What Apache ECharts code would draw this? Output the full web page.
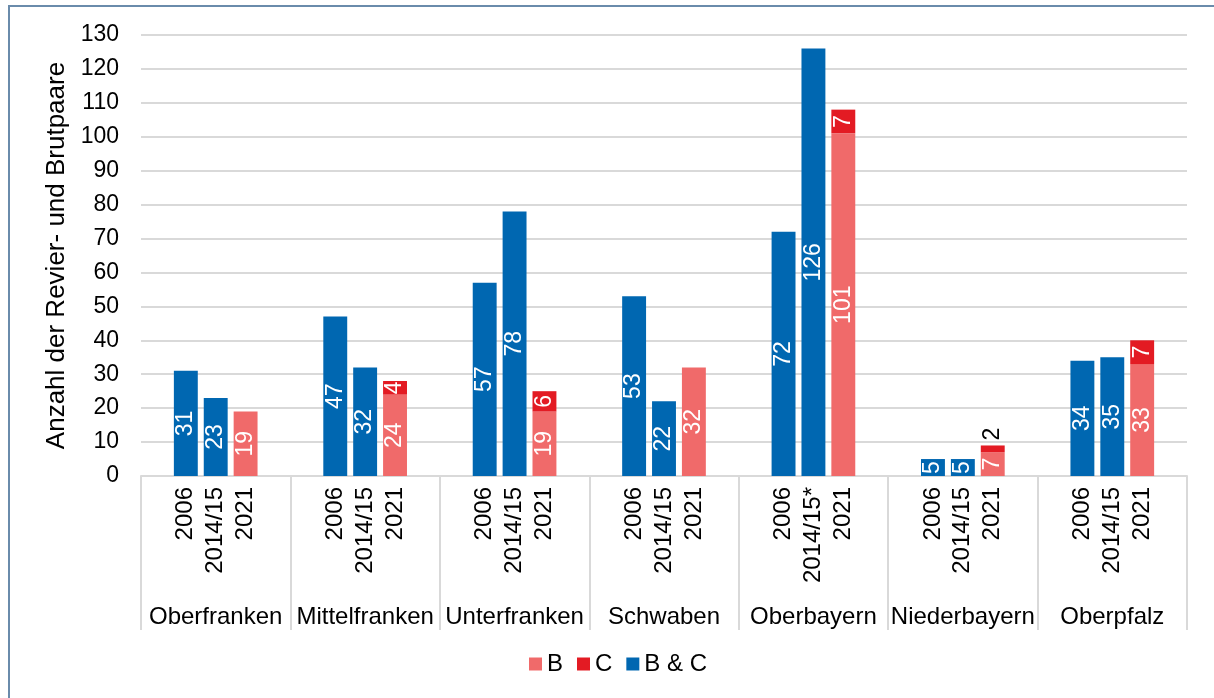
<!DOCTYPE html>
<html>
<head>
<meta charset="utf-8">
<script src="https://cdn.jsdelivr.net/npm/echarts@6/dist/echarts.min.js"></script>
<style>
html,body{margin:0;padding:0;background:#fff;}
#frame{position:absolute;left:8px;top:5px;width:1220px;height:710px;border-left:2px solid #6a8bab;border-top:2px solid #6a8bab;box-sizing:border-box;}
#chart{position:absolute;left:0;top:0;width:1214px;height:698px;}
</style>
</head>
<body>
<div id="frame"></div>
<div id="chart"></div>
<script>
// ---- data ----
const regions = ['Oberfranken','Mittelfranken','Unterfranken','Schwaben','Oberbayern','Niederbayern','Oberpfalz'];
const periods = ['2006','2014/15','2021'];
const periodsOberbayern = ['2006','2014/15*','2021'];
const bc2006 = [31, 47, 57, 53, 72, 5, 34];
const bc2014 = [23, 32, 78, 22, 126, 5, 35];
const b2021 = [19, 24, 19, 32, 101, 7, 33];
const c2021 = [0, 4, 6, 0, 7, 2, 7];

// ---- build categories (5 slots per region: pad, 2006, 2014/15, 2021, pad) ----
const cats = [];
const blueData = [], bData = [], cData = [];
regions.forEach((r, i) => {
  const per = r === 'Oberbayern' ? periodsOberbayern : periods;
  cats.push(r + '|pad0|');
  per.forEach((p, k) => cats.push(r + '|' + k + '|' + p));
  cats.push(r + '|pad1|');
  blueData.push(null, bc2006[i], bc2014[i], null, null);
  bData.push(null, null, null, b2021[i], null);
  const c = c2021[i];
  let cItem = null;
  if (c > 0) {
    if (c < 3) {
      cItem = {value: c, label: {position: 'top', color: '#000', align: 'left', verticalAlign: 'middle', distance: 5}};
    } else {
      cItem = c;
    }
  }
  cData.push(null, null, null, cItem, null);
});

const FONT = 'Liberation Sans, Arial, sans-serif';
const chart = echarts.init(document.getElementById('chart'), null, {renderer: 'canvas'});
const valLabel = {
  show: true, position: 'inside', rotate: 90, color: '#fff',
  fontSize: 23, fontFamily: FONT,
  formatter: p => p.value
};
chart.setOption({
  animation: false,
  backgroundColor: 'transparent',
  textStyle: {fontFamily: FONT},
  grid: {left: 141, right: 27, top: 35, bottom: 222, containLabel: false},
  legend: {
    bottom: 17, left: 524, itemWidth: 13, itemHeight: 13, itemGap: 14, icon: 'rect',
    textStyle: {fontSize: 24, color: '#000', fontFamily: FONT},
    data: ['B', 'C', 'B & C']
  },
  xAxis: [
    {
      type: 'category', data: cats, position: 'bottom', gridIndex: 0,
      axisLine: {show: true, lineStyle: {color: '#d9d9d9', width: 2}},
      axisTick: {show: false},
      axisLabel: {
        interval: 0, rotate: 90, margin: 11, fontSize: 24, color: '#000', fontFamily: FONT,
        formatter: v => { const s = v.split('|'); return s[2] || ''; }
      }
    },
    {
      type: 'category', data: regions, position: 'bottom', gridIndex: 0,
      axisLine: {show: false},
      axisTick: {show: true, length: 154, interval: 0, lineStyle: {color: '#d9d9d9', width: 2}},
      axisLabel: {interval: 0, margin: 129, fontSize: 24, color: '#000', fontFamily: FONT}
    }
  ],
  yAxis: {
    type: 'value', min: 0, max: 130, interval: 10,
    name: 'Anzahl der Revier- und Brutpaare', nameLocation: 'middle', nameGap: 67,
    nameTextStyle: {fontSize: 26, color: '#000', fontFamily: FONT},
    axisLine: {show: false}, axisTick: {show: false},
    axisLabel: {fontSize: 23, color: '#000', margin: 22, fontFamily: FONT},
    splitLine: {lineStyle: {color: '#d9d9d9', width: 2}}
  },
  series: [
    {name: 'B', type: 'bar', stack: 'a', xAxisIndex: 0, data: bData, barCategoryGap: '20%',
     itemStyle: {color: '#F06A6A'}, label: valLabel},
    {name: 'C', type: 'bar', stack: 'a', xAxisIndex: 0, data: cData, barCategoryGap: '20%',
     itemStyle: {color: '#E31B23'}, label: valLabel},
    {name: 'B & C', type: 'bar', stack: 'a', xAxisIndex: 0, data: blueData, barCategoryGap: '20%',
     itemStyle: {color: '#0067B1'}, label: valLabel}
  ]
});
</script>
</body>
</html>
